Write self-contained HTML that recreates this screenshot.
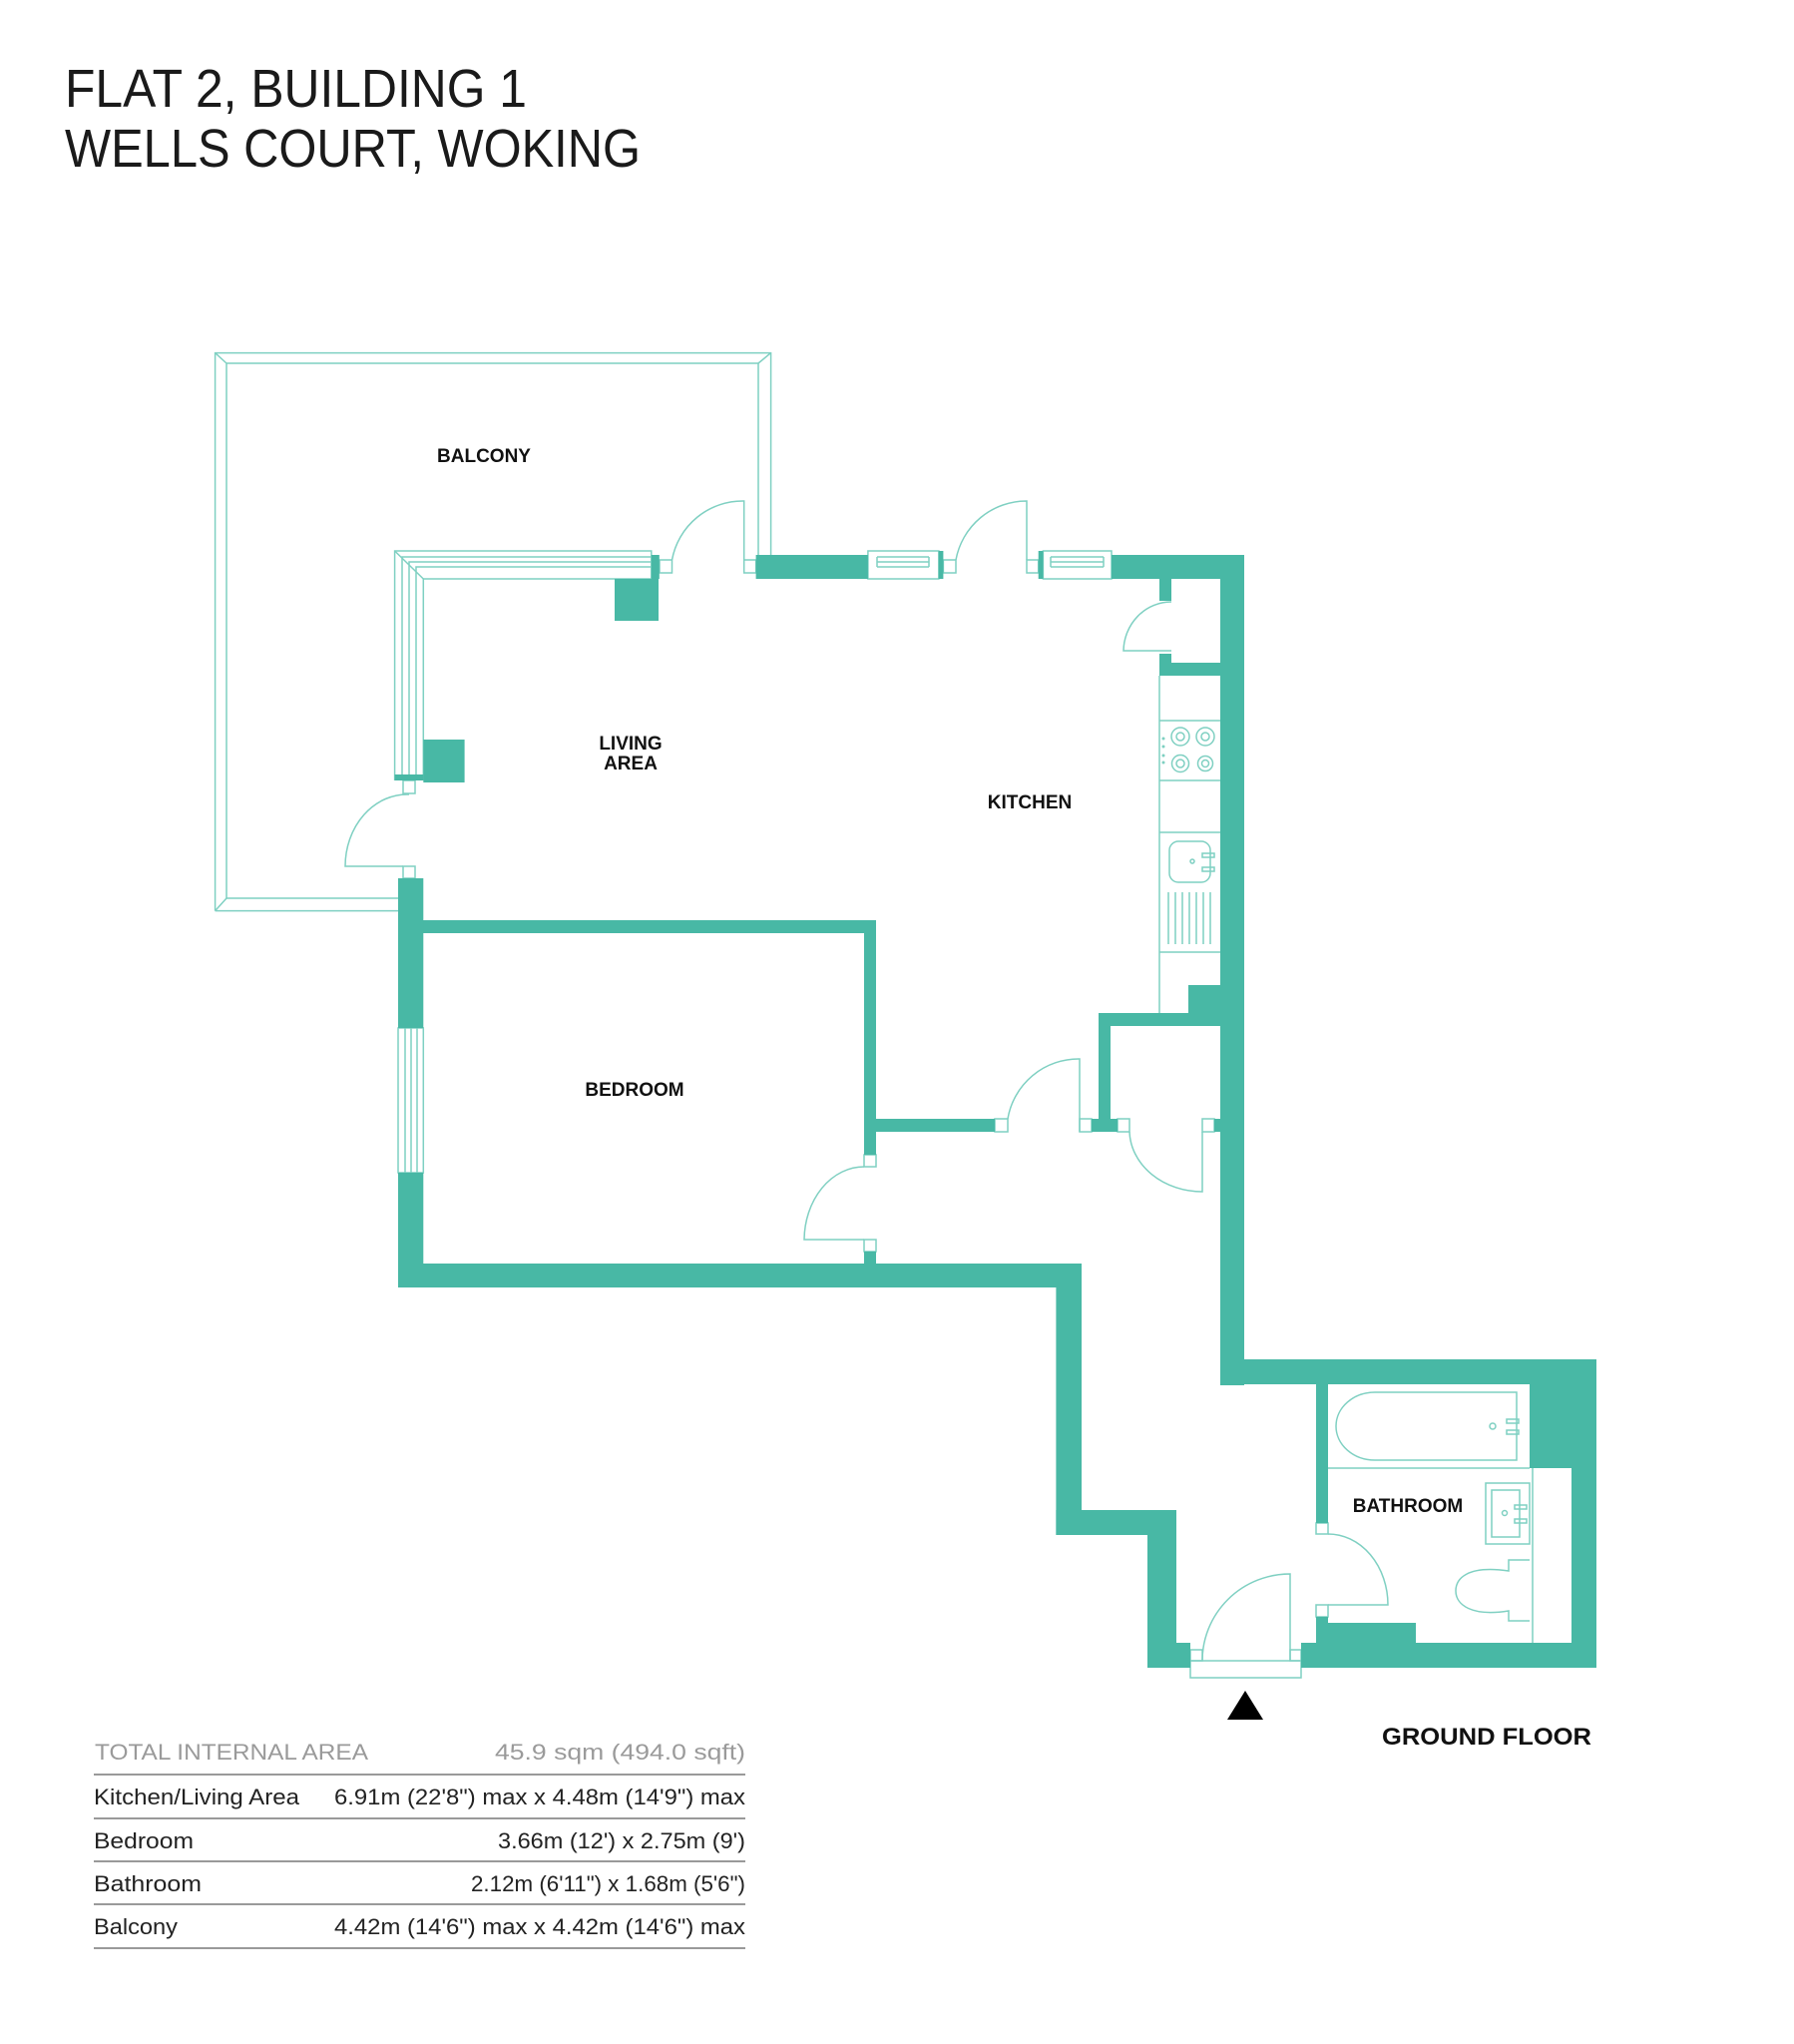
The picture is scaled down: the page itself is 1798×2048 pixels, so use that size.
<!DOCTYPE html>
<html><head><meta charset="utf-8"><style>
html,body{margin:0;padding:0;background:#fff;}
svg{display:block;}
</style></head><body>
<svg width="1798" height="2048" viewBox="0 0 1798 2048" xmlns="http://www.w3.org/2000/svg">
<rect width="1798" height="2048" fill="#fff"/>
<g font-family="Liberation Sans, sans-serif" fill="#1a1a1a">
<text x="65" y="107" font-size="54" textLength="463" lengthAdjust="spacingAndGlyphs">FLAT 2, BUILDING 1</text>
<text x="65" y="167" font-size="54" textLength="577" lengthAdjust="spacingAndGlyphs">WELLS COURT, WOKING</text>
</g>

<g fill="none" stroke="#7fd0c2" stroke-width="1.5">
<path d="M215.6,912.6 V353.6 H772.6 V556"/>
<path d="M227,900 V364 H760 V556"/>
<path d="M215.6,353.6 L227,364 M772.6,353.6 L760,364 M215.6,912.6 L227,900"/>
<path d="M215.6,912.6 H399 M227,900 H399"/>
<path d="M395.6,782 V552 H652.8 V580 H424.3 V782"/>
<path d="M403,782 V558 H652.8 M410,782 V563 H652.8 M417,782 V568 H652.8"/>
<path d="M395.6,552 L424.3,580"/>
<rect x="661" y="561" width="12.5" height="13"/>
<rect x="745.7" y="561" width="12" height="13"/>
<path d="M745.7,561 V502 A72,72 0 0 0 673.5,561"/>
<rect x="869.9" y="552" width="71" height="28"/>
<path d="M879,558 H931 M879,563 H931 M879,568 H931 M879,558 V568 M931,558 V568"/>
<rect x="945.4" y="561" width="12.6" height="13"/>
<rect x="1029" y="561" width="11.7" height="13"/>
<path d="M1029,561 V502 A72,72 0 0 0 958,561"/>
<rect x="1045.4" y="552" width="68.6" height="28"/>
<path d="M1053,558 H1106 M1053,563 H1106 M1053,568 H1106 M1053,558 V568 M1106,558 V568"/>
<rect x="404" y="782" width="12" height="13"/>
<rect x="404" y="868" width="12" height="12"/>
<path d="M404,868 H346 A62,72 0 0 1 410,796"/>
<rect x="399" y="1030" width="25.3" height="145"/>
<path d="M406,1030 V1175 M412,1030 V1175 M418,1030 V1175"/>
<rect x="866" y="1157" width="12" height="12"/>
<rect x="866" y="1242" width="12" height="12"/>
<path d="M866,1242 H806 A60,74 0 0 1 866,1169"/>
<rect x="997" y="1121" width="13" height="13"/>
<rect x="1082" y="1121" width="12" height="13"/>
<path d="M1082,1134 V1061 A72,72 0 0 0 1010,1121"/>
<rect x="1120" y="1121" width="12" height="13"/>
<rect x="1205" y="1121" width="12" height="13"/>
<path d="M1205,1134 V1194 A73,62 0 0 1 1132,1134"/>
<path d="M1174,652 H1126 A48,50 0 0 1 1174,603"/>
<path d="M1162,677 V1015 M1162,722 H1223 M1162,782 H1223 M1162,834 H1223 M1162,954 H1223"/>
<circle cx="1183" cy="738" r="9"/><circle cx="1183" cy="738" r="4"/>
<circle cx="1208" cy="738" r="9"/><circle cx="1208" cy="738" r="4"/>
<circle cx="1183" cy="765" r="8.5"/><circle cx="1183" cy="765" r="4"/>
<circle cx="1208" cy="765" r="7.5"/><circle cx="1208" cy="765" r="3.5"/>
<rect x="1172" y="843" width="41" height="41" rx="9"/>
<circle cx="1195" cy="863" r="2"/>
<rect x="1205" y="855" width="12" height="4"/><rect x="1205" y="869" width="12" height="4"/>
<path d="M1171,894 V946 M1178,894 V946 M1185,894 V946 M1192,894 V946 M1199,894 V946 M1206,894 V946 M1213,894 V946"/>
<path d="M1331,1471 H1533 M1536,1471 V1646"/>
<path d="M1520,1395 V1463 H1378 A39,34 0 0 1 1378,1395 Z"/>
<circle cx="1496" cy="1429" r="3"/>
<rect x="1510" y="1422" width="12" height="4"/><rect x="1510" y="1433" width="12" height="4"/>
<rect x="1489" y="1486" width="44" height="61"/>
<rect x="1495" y="1493" width="28" height="47"/>
<circle cx="1508" cy="1516" r="2.5"/>
<rect x="1518" y="1508" width="12" height="4"/><rect x="1518" y="1522" width="12" height="4"/>
<path d="M1533,1563 H1512 V1574 C1470,1568 1459,1582 1459,1594 C1459,1608 1475,1620 1512,1614 V1624 H1533"/>
<rect x="1319" y="1526" width="12" height="11"/>
<rect x="1319" y="1608" width="12" height="12"/>
<path d="M1331,1608 H1391 A60,71 0 0 0 1331,1537"/>
<rect x="1193" y="1664" width="111" height="17"/>
<rect x="1193" y="1653" width="12" height="11"/>
<rect x="1293" y="1653" width="11" height="11"/>
<path d="M1293,1664 V1577 A88,87 0 0 0 1205,1664"/>
</g>
<g fill="#7fd0c2">
<circle cx="1166" cy="740" r="1.5"/><circle cx="1166" cy="748" r="1.5"/><circle cx="1166" cy="757" r="1.5"/><circle cx="1166" cy="764" r="1.5"/>
</g>

<g fill="#48b8a5">
<rect x="652.8" y="556" width="8" height="24"/>
<rect x="616" y="580" width="44" height="42"/>
<rect x="424.3" y="741" width="41.3" height="43"/>
<rect x="395.6" y="776" width="28.7" height="6"/>
<rect x="757.6" y="556" width="112.3" height="24"/>
<rect x="940.6" y="552" width="4.8" height="28"/>
<rect x="1040.7" y="552" width="4.7" height="28"/>
<rect x="1114" y="556" width="133" height="24"/>
<rect x="1223" y="556" width="24" height="832"/>
<rect x="1162" y="580" width="12" height="22"/>
<rect x="1162" y="655" width="12" height="22"/>
<rect x="1162" y="664" width="61" height="13"/>
<rect x="1191" y="987" width="32" height="28"/>
<rect x="1101" y="1015" width="122" height="13"/>
<rect x="1101" y="1015" width="12" height="106"/>
<rect x="1094" y="1121" width="26" height="13"/>
<rect x="1217" y="1121" width="6" height="13"/>
<rect x="878" y="1121" width="119" height="13"/>
<rect x="866" y="922" width="12" height="235"/>
<rect x="866" y="1254" width="12" height="12"/>
<rect x="399" y="922" width="479" height="13"/>
<rect x="399" y="880" width="25.3" height="150"/>
<rect x="399" y="1175" width="25.3" height="115"/>
<rect x="399" y="1266" width="685" height="24"/>
<rect x="1058.4" y="1266" width="25.6" height="272"/>
<rect x="1058.4" y="1513" width="120.6" height="25"/>
<rect x="1150" y="1513" width="29" height="158"/>
<rect x="1150" y="1646" width="43" height="25"/>
<rect x="1223" y="1362" width="377" height="25"/>
<rect x="1575" y="1362" width="25" height="309"/>
<rect x="1533" y="1387" width="42" height="84"/>
<rect x="1304" y="1646" width="296" height="25"/>
<rect x="1319" y="1387" width="12" height="139"/>
<rect x="1319" y="1620" width="12" height="26"/>
<rect x="1319" y="1626" width="100" height="20"/>
</g>

<g font-family="Liberation Sans, sans-serif" font-weight="bold" font-size="19" fill="#111" text-anchor="middle">
<text x="485" y="463">BALCONY</text>
<text x="632" y="751">LIVING</text>
<text x="632" y="771">AREA</text>
<text x="1032" y="810">KITCHEN</text>
<text x="636" y="1098">BEDROOM</text>
<text x="1411" y="1515">BATHROOM</text>
</g>

<polygon points="1248,1694 1266,1723 1230,1723" fill="#000"/>
<text x="1385" y="1748" font-family="Liberation Sans, sans-serif" font-weight="bold" font-size="24" fill="#111" textLength="210" lengthAdjust="spacingAndGlyphs">GROUND FLOOR</text>

<g font-family="Liberation Sans, sans-serif" font-size="22">
<text x="95" y="1763" fill="#9a9a9a" textLength="274" lengthAdjust="spacingAndGlyphs">TOTAL INTERNAL AREA</text>
<text x="747" y="1763" fill="#9a9a9a" text-anchor="end" textLength="251" lengthAdjust="spacingAndGlyphs">45.9 sqm (494.0 sqft)</text>
<g fill="#222">
<text x="94" y="1808" textLength="206" lengthAdjust="spacingAndGlyphs">Kitchen/Living Area</text>
<text x="747" y="1808" text-anchor="end" textLength="412" lengthAdjust="spacingAndGlyphs">6.91m (22'8") max x 4.48m (14'9") max</text>
<text x="94" y="1852" textLength="100" lengthAdjust="spacingAndGlyphs">Bedroom</text>
<text x="747" y="1852" text-anchor="end" textLength="248" lengthAdjust="spacingAndGlyphs">3.66m (12') x 2.75m (9')</text>
<text x="94" y="1895" textLength="108" lengthAdjust="spacingAndGlyphs">Bathroom</text>
<text x="747" y="1895" text-anchor="end" textLength="275" lengthAdjust="spacingAndGlyphs">2.12m (6'11") x 1.68m (5'6")</text>
<text x="94" y="1938" textLength="84" lengthAdjust="spacingAndGlyphs">Balcony</text>
<text x="747" y="1938" text-anchor="end" textLength="412" lengthAdjust="spacingAndGlyphs">4.42m (14'6") max x 4.42m (14'6") max</text>
</g>
<g stroke="#9a9a9a" stroke-width="2">
<line x1="94" y1="1778" x2="747" y2="1778"/>
<line x1="94" y1="1822" x2="747" y2="1822"/>
<line x1="94" y1="1865" x2="747" y2="1865"/>
<line x1="94" y1="1908" x2="747" y2="1908"/>
<line x1="94" y1="1952" x2="747" y2="1952"/>
</g>
</g>
</svg>
</body></html>
